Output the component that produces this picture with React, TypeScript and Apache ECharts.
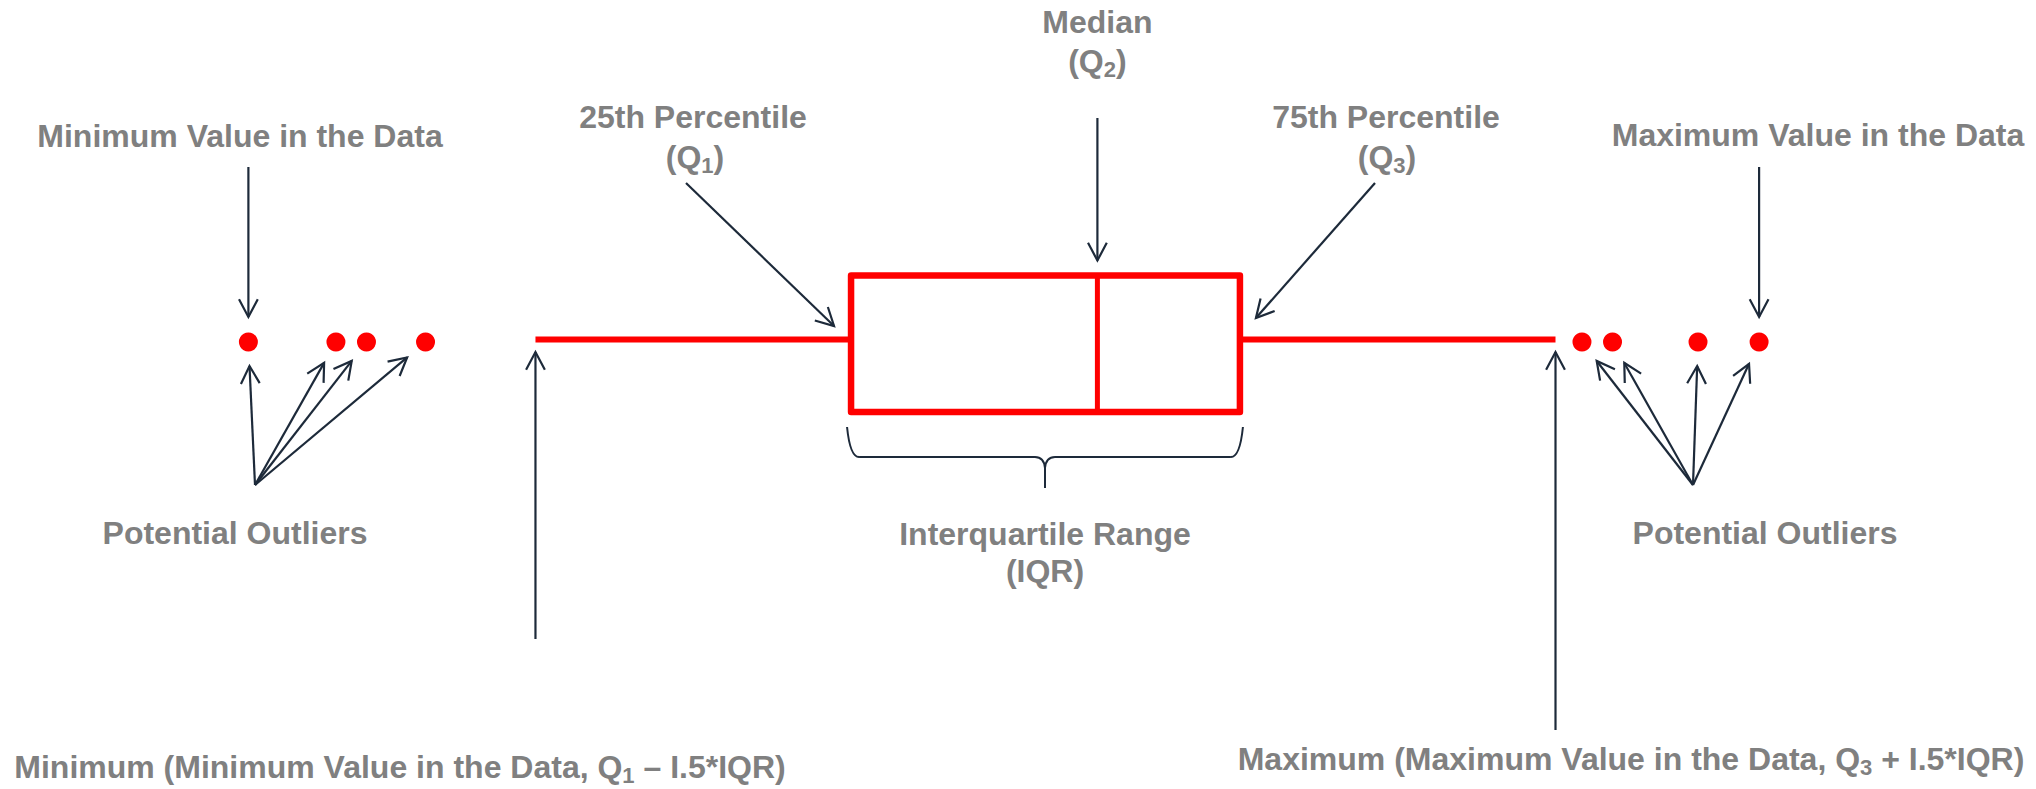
import React, { useEffect, useRef } from "react";
import * as echarts from "echarts";

// ---------------- data (horizontal value scale 0 – 100) ----------------
const whiskerLow = 26.3;
const q1 = 41.8;
const median = 53.9;
const q3 = 60.9;
const whiskerHigh = 76.4;
const outliersLow = [12.2, 16.5, 18.0, 20.9];
const outliersHigh = [77.7, 79.2, 83.4, 86.4];

// ---------------- texts ----------------
const txtMedian = "Median";
const txtQ2 = "(Q{s|2})";
const txtP25 = "25th Percentile";
const txtQ1 = "(Q{s|1})";
const txtP75 = "75th Percentile";
const txtQ3 = "(Q{s|3})";
const txtMinValue = "Minimum Value in the Data";
const txtMaxValue = "Maximum Value in the Data";
const txtOutliers = "Potential Outliers";
const txtIQR1 = "Interquartile Range";
const txtIQR2 = "(IQR)";
const txtMinimum = "Minimum (Minimum Value in the Data, Q{s|1} \u2013 I.5*IQR)";
const txtMaximum = "Maximum (Maximum Value in the Data, Q{s|3} + I.5*IQR)";

// ---------------- styles ----------------
const RED = "#ff0000";
const INK = "#1d2a3a";
const GREY = "#808080";
const FONT = '"Liberation Sans", Arial, Helvetica, sans-serif';
const W = 2036;
const H = 789;

export default function App() {
  const ref = useRef<HTMLDivElement>(null);

  useEffect(() => {
    if (!ref.current) return;
    const chart = echarts.init(ref.current, null, { renderer: "svg" });

    const boxHalf = 68.25;
    const boxOff = 1.75;
    const whiskerOff = -2.5;

    chart.setOption({
      animation: false,
      backgroundColor: "#ffffff",
      grid: { left: 0, top: 0, width: W, height: 684, containLabel: false },
      xAxis: { type: "value", min: 0, max: 100, show: false },
      yAxis: { type: "value", min: -1, max: 1, show: false },
      series: [
        {
          type: "custom",
          silent: true,
          data: [[whiskerLow, q1, median, q3, whiskerHigh, 0]],
          encode: { x: [0, 1, 2, 3, 4], y: 5 },
          renderItem: (_params: any, api: any) => {
            const row = api.value(5);
            const pLow = api.coord([api.value(0), row]);
            const pQ1 = api.coord([api.value(1), row]);
            const pMed = api.coord([api.value(2), row]);
            const pQ3 = api.coord([api.value(3), row]);
            const pHigh = api.coord([api.value(4), row]);
            const yw = pLow[1] + whiskerOff;
            const yc = pLow[1] + boxOff;
            return {
              type: "group",
              children: [
                {
                  type: "line",
                  shape: { x1: pLow[0], y1: yw, x2: pQ1[0], y2: yw },
                  style: { stroke: RED, lineWidth: 6 },
                },
                {
                  type: "line",
                  shape: { x1: pQ3[0], y1: yw, x2: pHigh[0], y2: yw },
                  style: { stroke: RED, lineWidth: 6 },
                },
                {
                  type: "rect",
                  shape: {
                    x: pQ1[0],
                    y: yc - boxHalf,
                    width: pQ3[0] - pQ1[0],
                    height: boxHalf * 2,
                  },
                  style: { fill: "none", stroke: RED, lineWidth: 6.5, lineJoin: "round" },
                },
                {
                  type: "line",
                  shape: { x1: pMed[0], y1: yc - boxHalf, x2: pMed[0], y2: yc + boxHalf },
                  style: { stroke: RED, lineWidth: 5 },
                },
              ],
            };
          },
        },
        {
          type: "scatter",
          silent: true,
          symbol: "circle",
          symbolSize: 19,
          itemStyle: { color: RED, opacity: 1 },
          data: [...outliersLow, ...outliersHigh].map((v) => [v, 0]),
        },
      ],
    });

    const P = (v: number) => {
      const p = chart.convertToPixel({ gridIndex: 0 }, [v, 0]) as number[];
      return { x: p[0], y: p[1] };
    };

    const graphics: any[] = [];
    const HEAD = 20;
    const ANG = (28 * Math.PI) / 180;
    const arrow = (tail: { x: number; y: number }, tip: { x: number; y: number }) => {
      const dx = tip.x - tail.x;
      const dy = tip.y - tail.y;
      const len = Math.hypot(dx, dy);
      const bx = -dx / len;
      const by = -dy / len;
      const rot = (a: number) => [
        tip.x + HEAD * (bx * Math.cos(a) - by * Math.sin(a)),
        tip.y + HEAD * (bx * Math.sin(a) + by * Math.cos(a)),
      ];
      graphics.push({
        type: "line",
        silent: true,
        shape: { x1: tail.x, y1: tail.y, x2: tip.x, y2: tip.y },
        style: { stroke: INK, lineWidth: 2.2 },
      });
      graphics.push({
        type: "polyline",
        silent: true,
        shape: { points: [rot(ANG), [tip.x, tip.y], rot(-ANG)] },
        style: { stroke: INK, lineWidth: 2.2, fill: "none" },
      });
    };

    const boxTop = P(median).y + boxOff - boxHalf;

    // min / max value arrows
    const pMinV = P(outliersLow[0]);
    arrow({ x: pMinV.x, y: 167 }, { x: pMinV.x, y: pMinV.y - 25 });
    const pMaxV = P(outliersHigh[outliersHigh.length - 1]);
    arrow({ x: pMaxV.x, y: 167 }, { x: pMaxV.x, y: pMaxV.y - 25 });
    // median
    const pMed = P(median);
    arrow({ x: pMed.x, y: 118 }, { x: pMed.x, y: boxTop - 15 });
    // quartiles
    const pQ1 = P(q1);
    arrow({ x: 686, y: 183 }, { x: pQ1.x - 17, y: 326 });
    const pQ3 = P(q3);
    arrow({ x: 1375, y: 183 }, { x: pQ3.x + 16, y: 318 });
    // outlier fans
    const fan = (origin: { x: number; y: number }, vals: number[]) => {
      vals.forEach((v) => {
        const d = P(v);
        const ux = origin.x - d.x;
        const uy = origin.y - d.y;
        const l = Math.hypot(ux, uy);
        arrow(origin, { x: d.x + (ux / l) * 24, y: d.y + (uy / l) * 24 });
      });
    };
    fan({ x: 255, y: 485 }, outliersLow);
    fan({ x: 1693, y: 485 }, outliersHigh);
    // whisker end arrows
    const pWL = P(whiskerLow);
    arrow({ x: pWL.x, y: 639 }, { x: pWL.x, y: pWL.y + 10 });
    const pWH = P(whiskerHigh);
    arrow({ x: pWH.x, y: 730 }, { x: pWH.x, y: pWH.y + 10 });

    // brace under the box
    const L = pQ1.x - 4;
    const R = pQ3.x + 3;
    const C = (L + R) / 2;
    const yT = 427;
    const yM = 457;
    const yB = 488;
    const braceStyle = { stroke: INK, lineWidth: 2, fill: "none" };
    graphics.push(
      { type: "bezierCurve", silent: true, shape: { x1: L, y1: yT, cpx1: L + 3, cpy1: yM, x2: L + 12, y2: yM }, style: braceStyle },
      { type: "line", silent: true, shape: { x1: L + 12, y1: yM, x2: C - 10, y2: yM }, style: braceStyle },
      { type: "bezierCurve", silent: true, shape: { x1: C - 10, y1: yM, cpx1: C - 1, cpy1: yM, x2: C, y2: yM + 11 }, style: braceStyle },
      { type: "line", silent: true, shape: { x1: C, y1: yM + 11, x2: C, y2: yB }, style: braceStyle },
      { type: "bezierCurve", silent: true, shape: { x1: C + 10, y1: yM, cpx1: C + 1, cpy1: yM, x2: C, y2: yM + 11 }, style: braceStyle },
      { type: "line", silent: true, shape: { x1: C + 10, y1: yM, x2: R - 12, y2: yM }, style: braceStyle },
      { type: "bezierCurve", silent: true, shape: { x1: R, y1: yT, cpx1: R - 3, cpy1: yM, x2: R - 12, y2: yM }, style: braceStyle }
    );

    // texts
    const text = (t: string, x: number, y: number) => {
      graphics.push({
        type: "text",
        silent: true,
        x,
        y,
        style: {
          text: t,
          fill: GREY,
          fontSize: 32,
          fontWeight: "bold",
          fontFamily: FONT,
          lineHeight: 38,
          align: "center",
          verticalAlign: "middle",
          rich: {
            s: {
              fontSize: 22,
              lineHeight: 12,
              fontWeight: "bold",
              fontFamily: FONT,
              fill: GREY,
              verticalAlign: "bottom",
            },
          },
        },
      });
    };
    text(txtMedian, pMed.x, 21.5);
    text(txtQ2, pMed.x, 61);
    text(txtP25, 693, 116.5);
    text(txtQ1, 695, 157);
    text(txtP75, 1386, 116.5);
    text(txtQ3, 1387, 157);
    text(txtMinValue, 240, 135.5);
    text(txtMaxValue, 1818, 135);
    text(txtOutliers, 235, 533);
    text(txtOutliers, 1765, 533);
    text(txtIQR1, C, 533.5);
    text(txtIQR2, C, 571);
    text(txtMinimum, 400, 767);
    text(txtMaximum, 1631, 759);

    chart.setOption({ graphic: graphics });

    return () => {
      chart.dispose();
    };
  }, []);

  return (
    <div
      ref={ref}
      style={{ position: "absolute", left: 0, top: 0, width: W, height: H, background: "#fff" }}
    />
  );
}
